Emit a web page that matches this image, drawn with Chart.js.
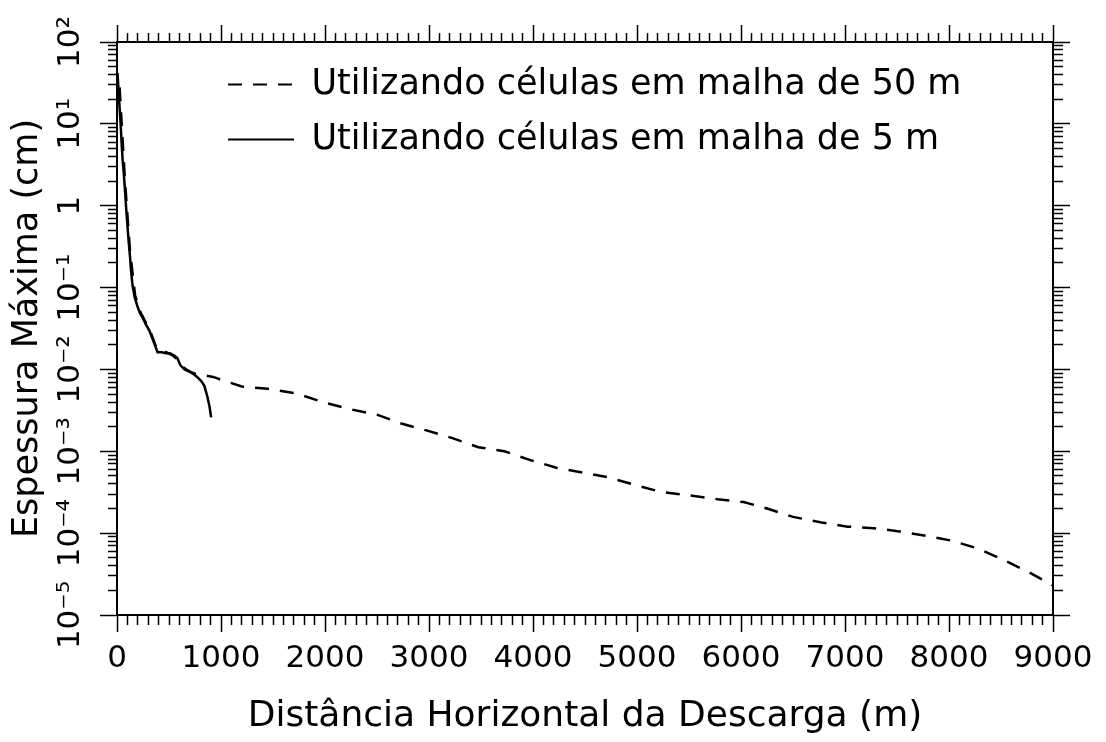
<!DOCTYPE html>
<html>
<head>
<meta charset="utf-8">
<script src="https://cdn.jsdelivr.net/npm/chart.js@4.4.1/dist/chart.umd.min.js"></script>
<style>
  html, body { margin: 0; padding: 0; background: #fff; }
  #wrap { width: 1106px; height: 742px; }
</style>
</head>
<body>
<div id="wrap"><canvas id="chart"></canvas></div>
<script>
// Malha de 50 m: distancia (m) / espessura maxima (cm)
var x50 = [25, 75, 125, 175, 225, 275, 325, 375, 425, 475, 525, 575, 625, 675, 725, 775, 825, 875, 925, 985,
  1200, 1450, 1725, 1975, 2225, 2500, 2725, 2975, 3225, 3475, 3725, 3975, 4225, 4475, 4725, 4975,
  5225, 5500, 5775, 6025, 6250, 6500, 6775, 7025, 7275, 7525, 7775, 8025, 8275, 8525, 8775, 9000];
var y50 = [28, 2.2, 0.28, 0.079, 0.050, 0.038, 0.028, 0.019, 0.0166, 0.0162, 0.0151, 0.0135, 0.011, 0.0098, 0.0091, 0.0087, 0.0085, 0.0083, 0.0081, 0.0076,
  0.0062, 0.0058, 0.0051, 0.0040, 0.0033, 0.0028, 0.0022, 0.0018, 0.00145, 0.00112, 0.0010, 0.00078, 0.00063, 0.00055, 0.00048, 0.00039,
  0.00032, 0.00029, 0.00026, 0.00024, 0.00020, 0.000158, 0.000135, 0.00012, 0.000115, 0.000105, 0.000093, 0.000081, 0.000065, 0.000047, 0.000033, 0.000023];

// Malha de 5 m
var x5 = [5, 15, 25, 35, 45, 55, 65, 75, 85, 95, 105, 115, 125, 135, 150, 170, 195, 220, 250, 280,
  310, 340, 370, 390, 430, 470, 510, 550, 580, 610, 650, 690, 730, 770, 810, 840, 870, 890, 905];
var y5 = [41.7, 25.1, 15.8, 10, 5.6, 3.5, 2.5, 1.66, 1.07, 0.71, 0.48, 0.33, 0.24, 0.16, 0.105, 0.076, 0.060, 0.049, 0.042, 0.035,
  0.030, 0.024, 0.019, 0.0162, 0.0162, 0.0158, 0.0158, 0.0148, 0.0138, 0.0112, 0.0100, 0.0095, 0.0089, 0.0081, 0.0072, 0.0063, 0.0046, 0.0035, 0.0026];

var seriesNames = ['Utilizando células em malha de 50 m', 'Utilizando células em malha de 5 m'];

var xTickValues = [0, 1000, 2000, 3000, 4000, 5000, 6000, 7000, 8000, 9000];
var xTickLabels = ['0', '1000', '2000', '3000', '4000', '5000', '6000', '7000', '8000', '9000'];
var yTickValues = [1e-5, 1e-4, 1e-3, 1e-2, 1e-1, 1, 10, 100];
var yTickLabels = ['10⁻⁵', '10⁻⁴', '10⁻³', '10⁻²', '10⁻¹', '1', '10¹', '10²'];

function toPoints(xs, ys) {
  return xs.map(function(x, i) { return {x: x, y: ys[i]}; });
}

// major ticks + 9 minor ticks between them
function linearTicks() {
  var t = [];
  for (var i = 0; i < xTickValues.length; i++) {
    t.push({value: xTickValues[i], major: true});
    if (i < xTickValues.length - 1) {
      var step = (xTickValues[i + 1] - xTickValues[i]) / 10;
      for (var k = 1; k < 10; k++) t.push({value: xTickValues[i] + k * step, major: false});
    }
  }
  return t;
}

function logTicks() {
  var t = [];
  for (var i = 0; i < yTickValues.length; i++) {
    t.push({value: yTickValues[i], major: true});
    if (i < yTickValues.length - 1) {
      for (var m = 2; m < 10; m++) t.push({value: m * yTickValues[i], major: false});
    }
  }
  return t;
}

// short minor ticks are made by dashing the long tick line
function frameGrid(side) {
  return {
    drawOnChartArea: false,
    drawTicks: true,
    tickLength: 17,
    tickColor: '#000',
    tickWidth: 1.5,
    tickBorderDash: function(c) {
      if (!c.tick || c.tick.major) return [];
      return (side === 'left' || side === 'top') ? [0, 8, 9, 100] : [9, 100];
    }
  };
}

var frameBorder = {display: true, color: '#000', width: 2};

var legendPlacer = {
  id: 'legendPlacer',
  afterLayout: function(chart) {
    var lg = chart.legend, area = chart.chartArea;
    lg.left = area.left + 91;
    lg.right = area.right;
    lg.top = area.top + 5;
    lg.bottom = area.bottom;
  }
};

Chart.defaults.font.family = 'DejaVu Sans';
Chart.defaults.color = '#000';

new Chart(document.getElementById('chart'), {
  type: 'line',
  data: {
    datasets: [{
      label: seriesNames[0],
      data: toPoints(x50, y50),
      borderColor: '#000',
      backgroundColor: '#000',
      borderWidth: 2.5,
      borderDash: [14, 11],
      pointRadius: 0,
      tension: 0
    }, {
      label: seriesNames[1],
      data: toPoints(x5, y5),
      borderColor: '#000',
      backgroundColor: '#000',
      borderWidth: 2.5,
      pointRadius: 0,
      tension: 0
    }]
  },
  options: {
    responsive: true,
    maintainAspectRatio: false,
    animation: false,
    events: [],
    layout: {padding: 0},
    plugins: {
      tooltip: {enabled: false},
      legend: {
        position: 'chartArea',
        align: 'start',
        labels: {
          usePointStyle: true,
          pointStyle: 'line',
          pointStyleWidth: 66,
          padding: 20,
          color: '#000',
          font: {size: 35},
          generateLabels: function(chart) {
            var items = Chart.defaults.plugins.legend.labels.generateLabels(chart);
            items.forEach(function(it) {
              var ds = chart.data.datasets[it.datasetIndex];
              it.lineDash = ds.borderDash || [];
              it.lineWidth = 2;
            });
            return items;
          }
        }
      }
    },
    scales: {
      x: {
        type: 'linear',
        position: 'bottom',
        min: 0,
        max: 9000,
        afterBuildTicks: function(s) { s.ticks = linearTicks(); },
        afterFit: function(s) { s.height = 127; },
        grid: frameGrid('bottom'),
        border: frameBorder,
        ticks: {
          autoSkip: false,
          maxRotation: 0,
          padding: 8,
          font: {size: 31},
          callback: function(v, i, t) { return t[i].major ? xTickLabels[xTickValues.indexOf(v)] : ''; }
        },
        title: {
          display: true,
          text: 'Distância Horizontal da Descarga (m)',
          font: {size: 36},
          padding: {top: 0, bottom: 4}
        }
      },
      x2: {
        type: 'linear',
        position: 'top',
        min: 0,
        max: 9000,
        afterBuildTicks: function(s) { s.ticks = linearTicks(); },
        afterFit: function(s) { s.height = 42; },
        grid: frameGrid('top'),
        border: frameBorder,
        ticks: {display: false, autoSkip: false}
      },
      y: {
        type: 'logarithmic',
        position: 'left',
        min: 1e-5,
        max: 100,
        afterBuildTicks: function(s) { s.ticks = logTicks(); },
        afterFit: function(s) { s.width = 117; },
        grid: frameGrid('left'),
        border: frameBorder,
        ticks: {
          autoSkip: false,
          minRotation: 90,
          maxRotation: 90,
          crossAlign: 'center',
          padding: -5,
          font: {size: 31},
          callback: function(v, i, t) { return t[i].major ? yTickLabels[yTickValues.indexOf(v)] : ''; }
        },
        title: {
          display: true,
          text: 'Espessura Máxima (cm)',
          font: {size: 35},
          padding: {top: 7, bottom: 0}
        }
      },
      y2: {
        type: 'logarithmic',
        position: 'right',
        min: 1e-5,
        max: 100,
        afterBuildTicks: function(s) { s.ticks = logTicks(); },
        afterFit: function(s) { s.width = 53; },
        grid: frameGrid('right'),
        border: frameBorder,
        ticks: {display: false, autoSkip: false}
      }
    }
  },
  plugins: [legendPlacer]
});
</script>
</body>
</html>
